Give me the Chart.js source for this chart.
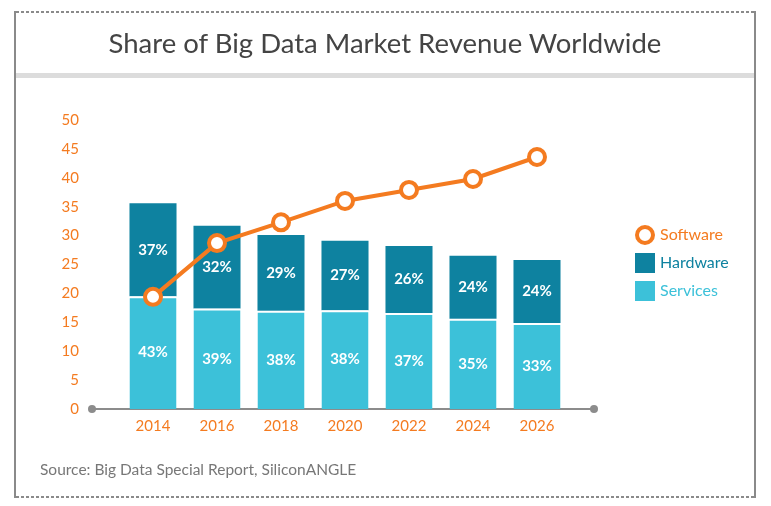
<!DOCTYPE html>
<html>
<head>
<meta charset="utf-8">
<script src="https://cdn.jsdelivr.net/npm/chart.js@4"></script>
<style>
  body { margin: 0; background: #fff; }
  #wrap { position: relative; width: 771px; height: 506px; font-family: Lato, "Open Sans", sans-serif; }
  #chart { position: absolute; left: 0; top: 0; }
  .vline { position: absolute; top: 11px; width: 2px; height: 487px; background: #8a8a8a; }
  .dots { position: absolute; left: 16px; width: 738px; height: 2px;
          background: repeating-linear-gradient(90deg, #8a8a8a 0 3px, transparent 3px 5px); }
  #band { position: absolute; left: 16px; top: 73px; width: 738px; height: 5px; background: #dcdcdc; }
  #title { position: absolute; left: 16px; width: 738px; top: 25px; text-align: center;
           font-size: 27.5px; color: #444; line-height: 36px; }
  #source { position: absolute; left: 40px; top: 460px; font-size: 15.5px; color: #777; }
</style>
</head>
<body>
<div id="wrap">
  <canvas id="chart" width="771" height="506"></canvas>
  <div class="vline" style="left:14px"></div>
  <div class="vline" style="left:754px"></div>
  <div class="dots" style="top:11px"></div>
  <div class="dots" style="top:496px"></div>
  <div id="band"></div>
  <div id="title">Share of Big Data Market Revenue Worldwide</div>
  <div id="source">Source: Big Data Special Report, SiliconANGLE</div>
</div>
<script>
const years = ['2014', '2016', '2018', '2020', '2022', '2024', '2026'];
const servicesValues = [19.5, 17.4, 17.0, 17.1, 16.6, 15.6, 14.9];
const hardwareValues = [16.1, 14.3, 13.1, 12.0, 11.6, 10.9, 10.9];
const softwareValues = [19.4, 28.7, 32.3, 36.0, 37.9, 39.8, 43.6];
const servicesLabels = ['43%', '39%', '38%', '38%', '37%', '35%', '33%'];
const hardwareLabels = ['37%', '32%', '29%', '27%', '26%', '24%', '24%'];

const orange = '#f47b20';
const teal = '#0e82a0';
const cyan = '#3cc1d9';
const fontName = 'Lato, "Open Sans", sans-serif';

// Prozent-Beschriftungen in den Balken
const barLabels = {
    id: 'barLabels',
    afterDatasetDraw(chart, args) {
        const ds = chart.data.datasets[args.index];
        if (!ds.pctLabels) return;
        const ctx = chart.ctx;
        ctx.save();
        ctx.fillStyle = '#fff';
        ctx.font = 'bold 15px ' + fontName;
        ctx.textAlign = 'center';
        ctx.textBaseline = 'middle';
        args.meta.data.forEach((bar, i) => {
            const p = bar.getProps(['x', 'y', 'base']);
            ctx.fillText(ds.pctLabels[i], p.x, (p.y + p.base) / 2);
        });
        ctx.restore();
    }
};

// Achsenlinie mit Punkten an den Enden
const axisLine = {
    id: 'axisLine',
    beforeDatasetsDraw(chart) {
        const a = chart.chartArea;
        const ctx = chart.ctx;
        const x0 = a.left - 29, x1 = a.right + 25, y = a.bottom;
        ctx.save();
        ctx.strokeStyle = '#8c8c8c';
        ctx.lineWidth = 2;
        ctx.beginPath();
        ctx.moveTo(x0, y);
        ctx.lineTo(x1, y);
        ctx.stroke();
        ctx.fillStyle = '#8c8c8c';
        [x0, x1].forEach(x => {
            ctx.beginPath();
            ctx.arc(x, y, 4, 0, Math.PI * 2);
            ctx.fill();
        });
        ctx.restore();
    }
};

// Legende rechts
const sideLegend = {
    id: 'sideLegend',
    afterDraw(chart) {
        const ctx = chart.ctx;
        const a = chart.chartArea;
        const x = a.right + 66;
        let y = 235;
        ctx.save();
        ctx.font = '16px ' + fontName;
        ctx.textBaseline = 'middle';
        ctx.textAlign = 'left';
        // Software
        ctx.beginPath();
        ctx.arc(x + 10, y, 8, 0, Math.PI * 2);
        ctx.fillStyle = '#fff';
        ctx.fill();
        ctx.lineWidth = 4;
        ctx.strokeStyle = orange;
        ctx.stroke();
        ctx.fillStyle = orange;
        ctx.fillText('Software', x + 25, y);
        y += 28;
        ctx.fillStyle = teal;
        ctx.fillRect(x, y - 10, 20, 20);
        ctx.fillText('Hardware', x + 25, y);
        y += 28;
        ctx.fillStyle = cyan;
        ctx.fillRect(x, y - 10, 20, 20);
        ctx.fillText('Services', x + 25, y);
        ctx.restore();
    }
};

new Chart(document.getElementById('chart').getContext('2d'), {
    data: {
        labels: years,
        datasets: [
            {
                type: 'line',
                label: 'Software',
                data: softwareValues,
                stack: 'sw',
                order: 0,
                borderColor: orange,
                borderWidth: 4,
                pointRadius: 8,
                pointBorderWidth: 4,
                pointBackgroundColor: '#fff',
                pointBorderColor: orange,
                tension: 0
            },
            {
                type: 'bar',
                label: 'Services',
                data: servicesValues,
                pctLabels: servicesLabels,
                stack: 'hw',
                order: 1,
                backgroundColor: cyan,
                borderColor: '#fff',
                borderWidth: {top: 2, left: 0, right: 0, bottom: 0},
                borderSkipped: false,
                categoryPercentage: 1,
                barPercentage: 0.735
            },
            {
                type: 'bar',
                label: 'Hardware',
                data: hardwareValues,
                pctLabels: hardwareLabels,
                stack: 'hw',
                order: 1,
                backgroundColor: teal,
                borderWidth: 0,
                categoryPercentage: 1,
                barPercentage: 0.735
            }
        ]
    },
    options: {
        responsive: false,
        animation: false,
        devicePixelRatio: 1,
        layout: {
            padding: {top: 120, left: 41, right: 202, bottom: 67}
        },
        scales: {
            x: {
                stacked: true,
                grid: {display: false, drawTicks: false},
                border: {display: false},
                ticks: {color: orange, font: {family: fontName, size: 15}, padding: 8},
                afterFit(scale) { scale.height = 30; }
            },
            y: {
                stacked: true,
                min: 0,
                max: 50,
                grid: {display: false, drawTicks: false},
                border: {display: false},
                ticks: {stepSize: 5, color: orange, font: {family: fontName, size: 15}, padding: 42},
                afterFit(scale) { scale.width = 80; }
            }
        },
        plugins: {
            legend: {display: false},
            tooltip: {enabled: false}
        }
    },
    plugins: [barLabels, axisLine, sideLegend]
});
</script>
</body>
</html>
